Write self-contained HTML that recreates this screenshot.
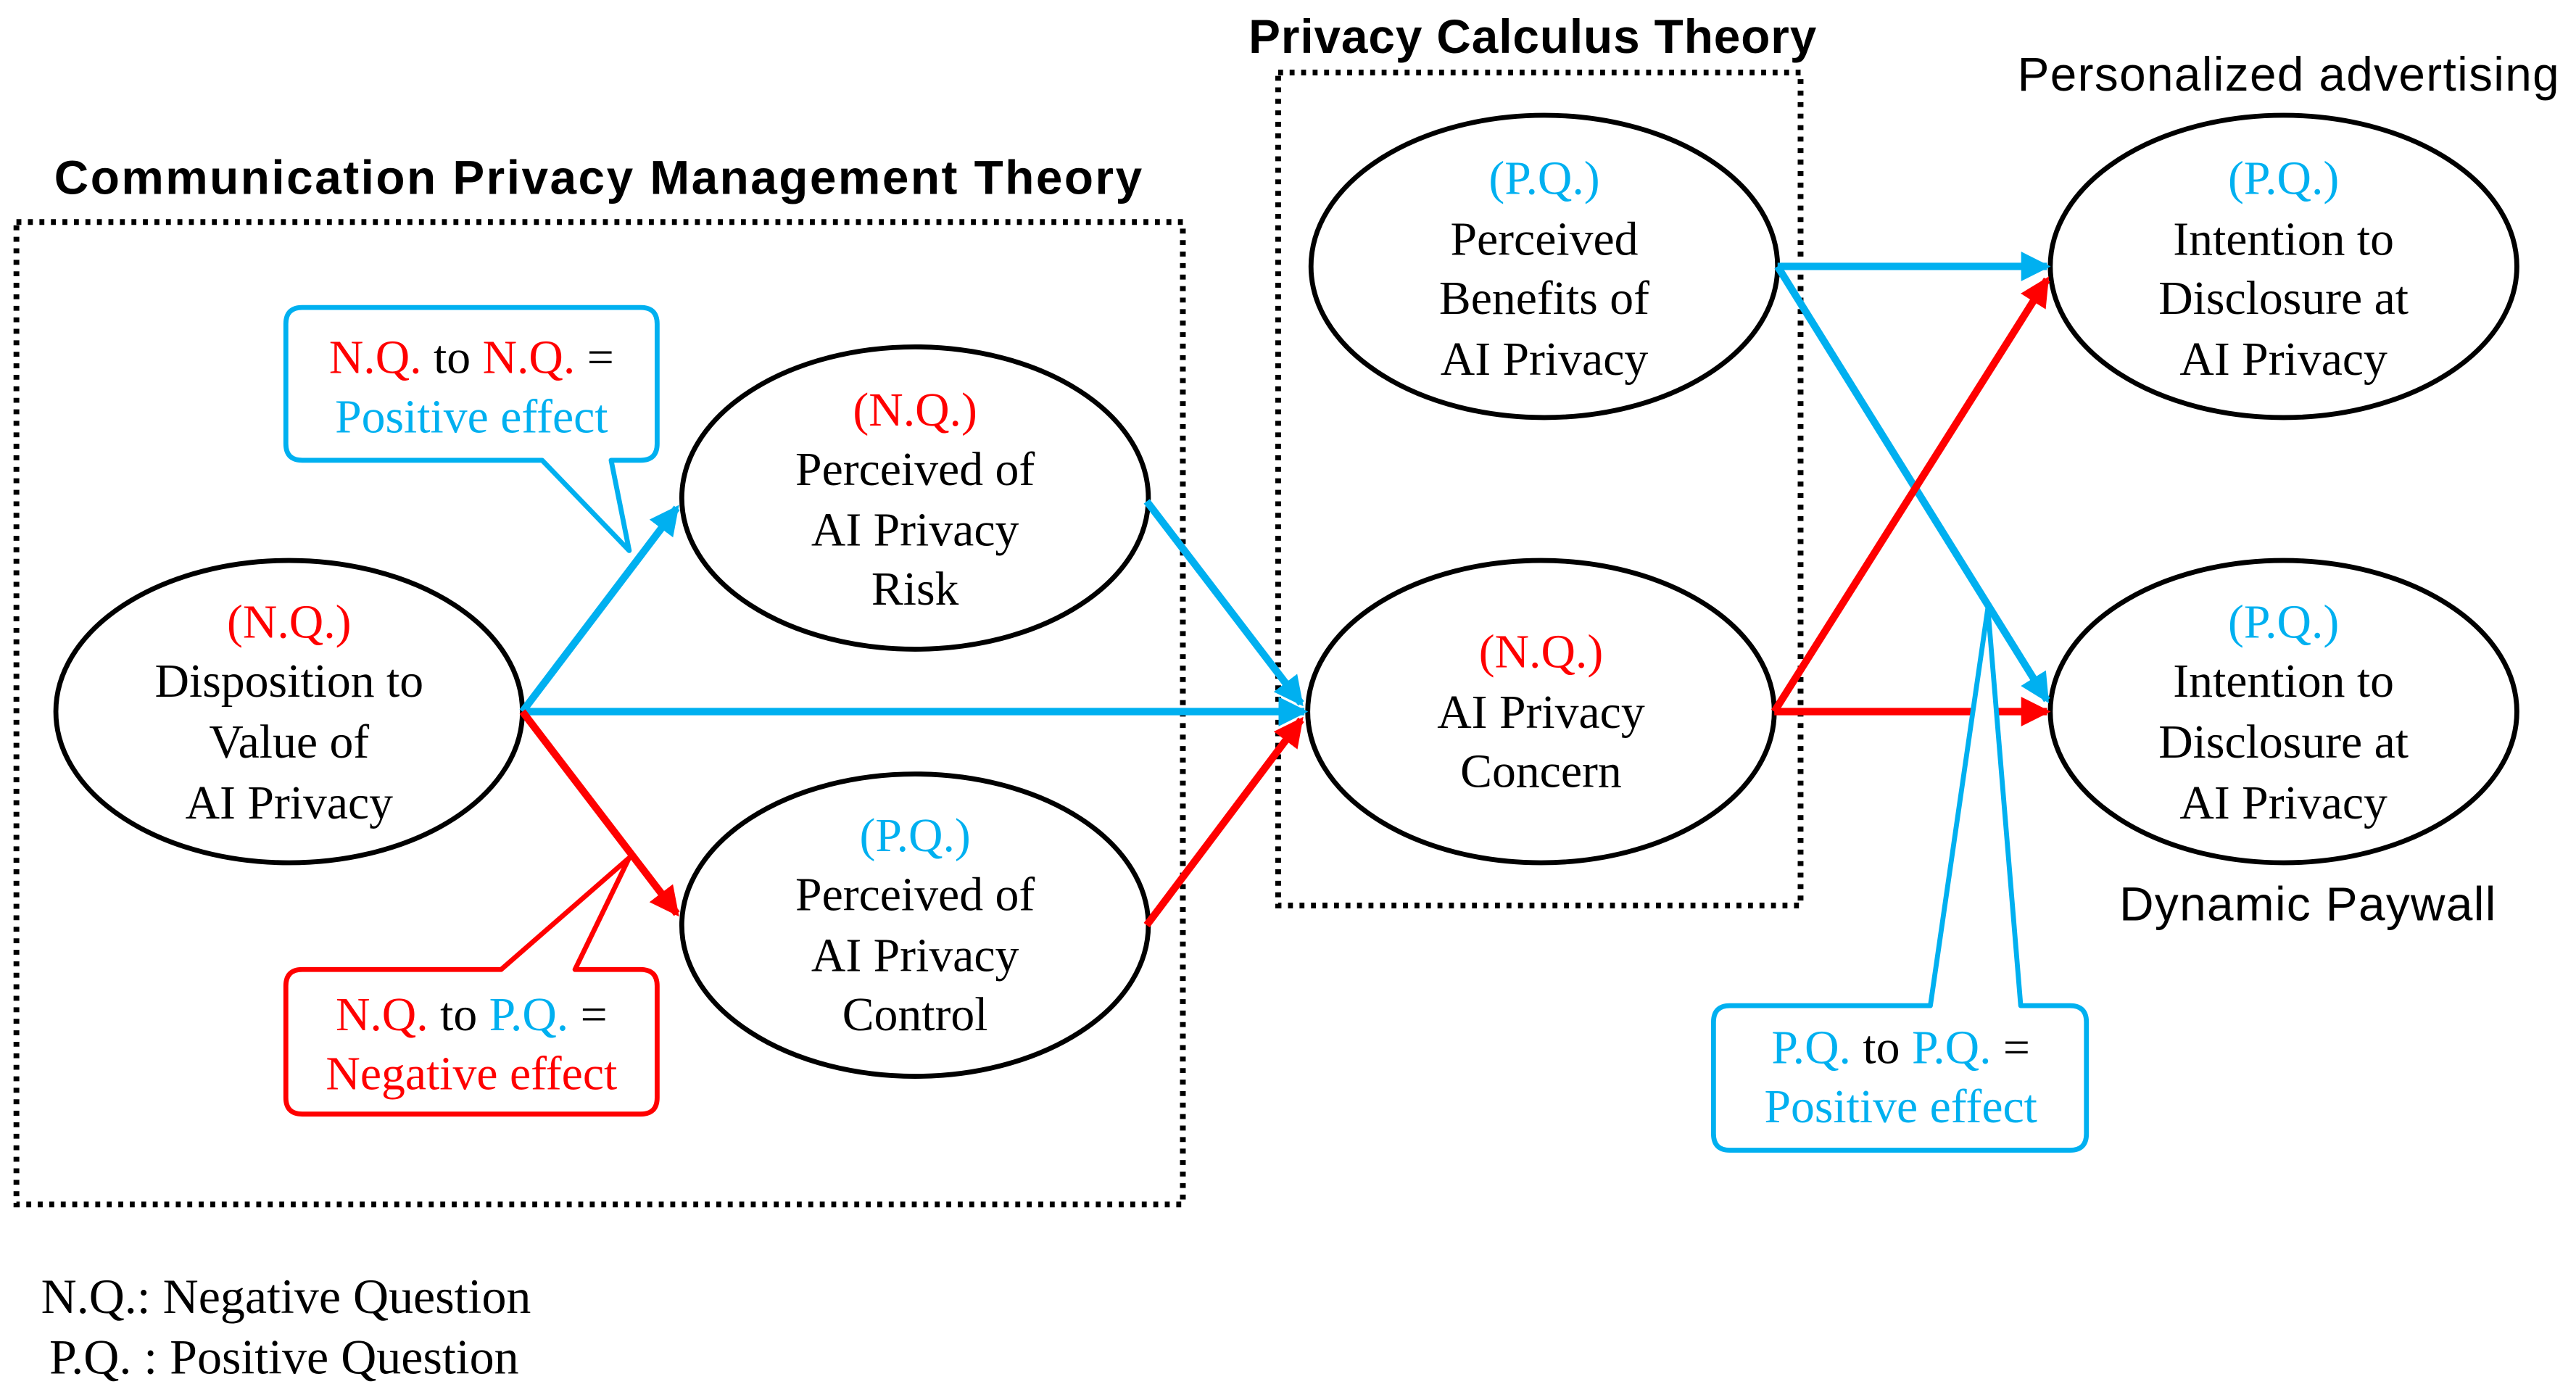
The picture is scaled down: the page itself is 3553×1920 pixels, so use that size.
<!DOCTYPE html>
<html><head><meta charset="utf-8"><style>
html,body{margin:0;padding:0;background:#fff;}
svg{display:block;}
.s{font-family:"Liberation Serif",serif;font-size:29px;text-anchor:middle;}
.b{fill:#00b0f0}.r{fill:#ff0000}
</style></head><body>
<svg width="3553" height="1920" viewBox="0 0 1568 847" xmlns="http://www.w3.org/2000/svg">
<defs>
<marker id="ab" markerWidth="4" markerHeight="4" refX="3.5" refY="2" orient="auto" markerUnits="strokeWidth"><path d="M0,0 L4,2 L0,4 z" fill="#00b0f0"/></marker>
<marker id="ar" markerWidth="4" markerHeight="4" refX="3.5" refY="2" orient="auto" markerUnits="strokeWidth"><path d="M0,0 L4,2 L0,4 z" fill="#ff0000"/></marker>
</defs>
<rect width="1568" height="847" fill="#fff"/>
<g fill="none" stroke="#000" stroke-width="3.5" stroke-dasharray="3,4">
<rect x="10" y="135" width="710" height="598"/>
<rect x="778" y="44" width="318" height="507"/>
</g>
<g font-family="Liberation Sans,sans-serif" font-weight="bold" font-size="29">
<text x="33" y="118" letter-spacing="1.1">Communication Privacy Management Theory</text>
<text x="760" y="32" letter-spacing="0.4">Privacy Calculus Theory</text>
</g>
<g font-family="Liberation Sans,sans-serif" font-size="29">
<text x="1228" y="55" letter-spacing="0.6">Personalized advertising</text>
<text x="1290" y="560" letter-spacing="0.6">Dynamic Paywall</text>
</g>
<g fill="#fff" stroke="#000" stroke-width="3">
<ellipse cx="176" cy="433" rx="142" ry="92"/>
<ellipse cx="557" cy="303" rx="142" ry="92"/>
<ellipse cx="557" cy="563" rx="142" ry="92"/>
<ellipse cx="940" cy="162" rx="142" ry="92"/>
<ellipse cx="938" cy="433" rx="142" ry="92"/>
<ellipse cx="1390" cy="162" rx="142" ry="92"/>
<ellipse cx="1390" cy="433" rx="142" ry="92"/>
</g>
<g fill="none" stroke-width="4.5">
<line x1="318" y1="433" x2="412" y2="309" stroke="#00b0f0" marker-end="url(#ab)"/>
<line x1="318" y1="433" x2="794" y2="433" stroke="#00b0f0" marker-end="url(#ab)"/>
<line x1="318" y1="433" x2="412" y2="556" stroke="#ff0000" marker-end="url(#ar)"/>
<line x1="698" y1="305" x2="792" y2="428" stroke="#00b0f0" marker-end="url(#ab)"/>
<line x1="698" y1="563" x2="792" y2="438" stroke="#ff0000" marker-end="url(#ar)"/>
<line x1="1082" y1="162" x2="1246" y2="162" stroke="#00b0f0" marker-end="url(#ab)"/>
<line x1="1082" y1="162" x2="1246" y2="426" stroke="#00b0f0" marker-end="url(#ab)"/>
<line x1="1080" y1="433" x2="1246" y2="170" stroke="#ff0000" marker-end="url(#ar)"/>
<line x1="1080" y1="433" x2="1246" y2="433" stroke="#ff0000" marker-end="url(#ar)"/>
</g>
<g stroke-width="3" fill="#fff" stroke-linejoin="round">
<path d="M184,187 H390 Q400,187 400,197 V270 Q400,280 390,280 H372 L383,335 L330,280 H184 Q174,280 174,270 V197 Q174,187 184,187 Z" stroke="#00b0f0"/>
<path d="M184,590 H305 L383,522 L350,590 H390 Q400,590 400,600 V668 Q400,678 390,678 H184 Q174,678 174,668 V600 Q174,590 184,590 Z" stroke="#ff0000"/>
<path d="M1053,612 H1175 L1210,370 L1230,612 H1260 Q1270,612 1270,622 V690 Q1270,700 1260,700 H1053 Q1043,700 1043,690 V622 Q1043,612 1053,612 Z" stroke="#00b0f0"/>
</g>
<g class="s">
<text x="287" y="227"><tspan class="r">N.Q.</tspan> to <tspan class="r">N.Q.</tspan> =</text>
<text x="287" y="263" class="b">Positive effect</text>
<text x="287" y="627"><tspan class="r">N.Q.</tspan> to <tspan class="b">P.Q.</tspan> =</text>
<text x="287" y="663" class="r">Negative effect</text>
<text x="1157" y="647"><tspan class="b">P.Q.</tspan> to <tspan class="b">P.Q.</tspan> =</text>
<text x="1157" y="683" class="b">Positive effect</text>

<text x="176" y="388" class="r">(N.Q.)</text>
<text x="176" y="424">Disposition to</text>
<text x="176" y="461">Value of</text>
<text x="176" y="498">AI Privacy</text>

<text x="557" y="259" class="r">(N.Q.)</text>
<text x="557" y="295">Perceived of</text>
<text x="557" y="332">AI Privacy</text>
<text x="557" y="368">Risk</text>

<text x="557" y="518" class="b">(P.Q.)</text>
<text x="557" y="554">Perceived of</text>
<text x="557" y="591">AI Privacy</text>
<text x="557" y="627">Control</text>

<text x="940" y="118" class="b">(P.Q.)</text>
<text x="940" y="155">Perceived</text>
<text x="940" y="191">Benefits of</text>
<text x="940" y="228">AI Privacy</text>

<text x="938" y="406" class="r">(N.Q.)</text>
<text x="938" y="443">AI Privacy</text>
<text x="938" y="479">Concern</text>

<text x="1390" y="118" class="b">(P.Q.)</text>
<text x="1390" y="155">Intention to</text>
<text x="1390" y="191">Disclosure at</text>
<text x="1390" y="228">AI Privacy</text>

<text x="1390" y="388" class="b">(P.Q.)</text>
<text x="1390" y="424">Intention to</text>
<text x="1390" y="461">Disclosure at</text>
<text x="1390" y="498">AI Privacy</text>
</g>
<g font-family="Liberation Serif,serif" font-size="30">
<text x="25" y="799">N.Q.: Negative Question</text>
<text x="30" y="836">P.Q. : Positive Question</text>
</g>
</svg>
</body></html>
